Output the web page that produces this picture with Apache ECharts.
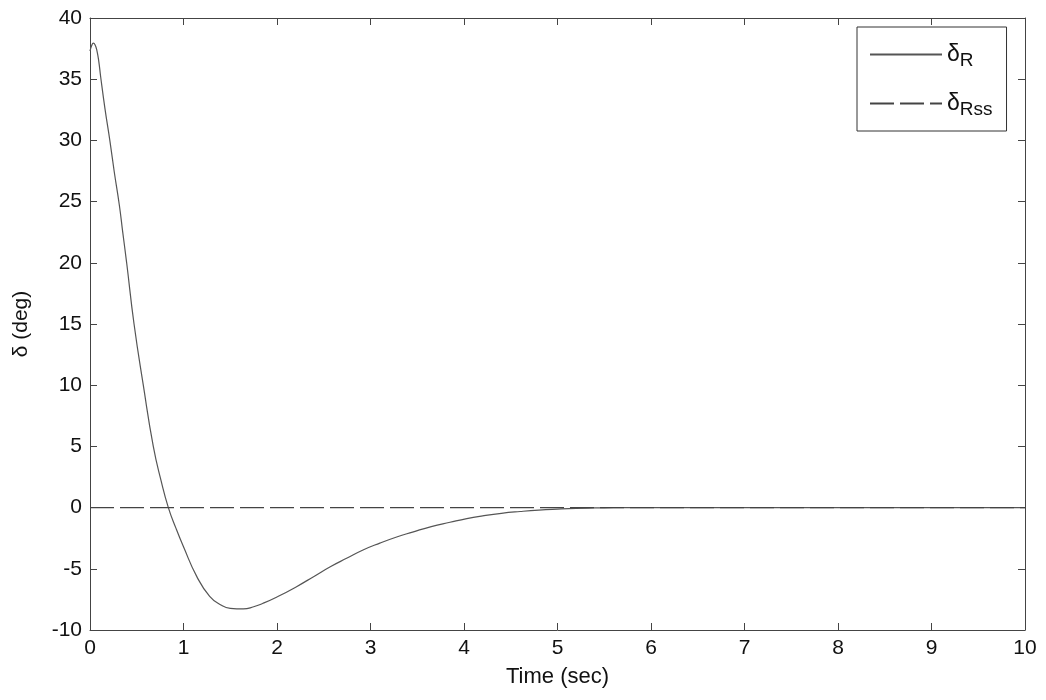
<!DOCTYPE html>
<html>
<head>
<meta charset="utf-8">
<script src="https://cdn.jsdelivr.net/npm/echarts@6/dist/echarts.min.js"></script>
<style>
  html, body { margin: 0; padding: 0; background: #fff; }
  #chart { width: 1046px; height: 700px; }
</style>
</head>
<body>
<div id="chart"></div>
<script>
// time samples (sec)
const timeSec = [0, 0.018, 0.035, 0.055, 0.075, 0.095, 0.114, 0.16, 0.214, 0.26, 0.314, 0.35, 0.392, 0.471, 0.57, 0.677, 0.76, 0.838,
  0.92, 1.0, 1.14, 1.28, 1.4, 1.5, 1.64, 1.75, 1.85, 2.0, 2.2, 2.4, 2.57, 2.75, 2.92, 3.1, 3.28, 3.45,
  3.65, 3.85, 4.03, 4.2, 4.4, 4.6, 4.8, 5.0, 5.2, 5.4, 5.6, 5.8, 6.0, 7, 8, 9, 10]
// rudder angle delta_R (deg)
const deltaR = [37.3, 37.75, 37.95, 37.8, 37.3, 36.4, 35.2, 32.6, 29.9, 27.4, 24.7, 22.5, 20.0, 15.0, 10.0, 5.0, 2.2, 0.0,
  -1.7, -3.2, -5.6, -7.25, -7.95, -8.23, -8.28, -8.1, -7.82, -7.3, -6.5, -5.6, -4.83, -4.12, -3.46, -2.9, -2.4, -2.0,
  -1.55, -1.2, -0.9, -0.68, -0.47, -0.32, -0.2, -0.12, -0.06, -0.03, -0.01, 0, 0, 0, 0, 0, 0]
// steady state delta_Rss
const timeSs = [0, 10]
const deltaRss = [0, 0]

const seriesNames = ['δR', 'δRss']
const xTicks = { min: 0, max: 10, interval: 1 }
const yTicks = { min: -10, max: 40, interval: 5 }

const font = 'Liberation Sans, Arial, sans-serif'
const axisColor = '#444'

const myChart = echarts.init(document.getElementById('chart'))

// 一个坐标轴的基本样式（MATLAB 风格：刻度朝内，四边都有）
function boxAxis (pos, ticks, showLabel) {
  return {
    type: 'value',
    position: pos,
    min: ticks.min,
    max: ticks.max,
    interval: ticks.interval,
    axisLine: { show: true, onZero: false, lineStyle: { color: axisColor, width: 1 } },
    axisTick: { show: true, inside: true, length: 7, lineStyle: { color: axisColor } },
    axisLabel: { show: showLabel, color: '#111', fontSize: 21, fontFamily: font, margin: 8 },
    splitLine: { show: false }
  }
}

const xBottom = boxAxis('bottom', xTicks, true)
xBottom.name = 'Time (sec)'
xBottom.nameLocation = 'middle'
xBottom.nameGap = 36
xBottom.nameTextStyle = { color: '#111', fontSize: 22, fontFamily: font }

const yLeft = boxAxis('left', yTicks, true)
yLeft.name = 'δ (deg)'
yLeft.nameLocation = 'middle'
yLeft.nameGap = 58
yLeft.nameTextStyle = { color: '#111', fontSize: 21, fontFamily: font }

const option = {
  backgroundColor: '#fff',
  animation: false,
  grid: { left: 90, right: 21, top: 18, bottom: 70, containLabel: false },
  legend: {
    orient: 'vertical',
    left: 857,
    top: 27,
    width: 150,
    padding: [12, 14, 12, 12],
    itemGap: 18,
    itemWidth: 72,
    itemHeight: 14,
    backgroundColor: '#fff',
    borderColor: '#333',
    borderWidth: 1,
    borderRadius: 0,
    data: seriesNames,
    formatter: function (name) {
      return '{d|δ}{s|' + name.slice(1) + '}'
    },
    textStyle: {
      color: '#111',
      fontFamily: font,
      rich: {
        d: { fontSize: 23, fontFamily: font, color: '#111', lineHeight: 26 },
        s: { fontSize: 19, fontFamily: font, color: '#111', padding: [12, 0, 0, 0], lineHeight: 26 }
      }
    }
  },
  xAxis: [xBottom, boxAxis('top', xTicks, false)],
  yAxis: [yLeft, boxAxis('right', yTicks, false)],
  series: [
    {
      name: seriesNames[0],
      type: 'line',
      data: timeSec.map((t, i) => [t, deltaR[i]]),
      smooth: 0.5,
      symbol: 'none',
      itemStyle: { color: 'transparent' },
      lineStyle: { color: '#555', width: 1.2 }
    },
    {
      name: seriesNames[1],
      type: 'line',
      data: timeSs.map((t, i) => [t, deltaRss[i]]),
      symbol: 'none',
      itemStyle: { color: 'transparent' },
      lineStyle: { color: '#444', width: 1.2, type: [24, 6] }
    }
  ]
}

myChart.setOption(option)
</script>
</body>
</html>
